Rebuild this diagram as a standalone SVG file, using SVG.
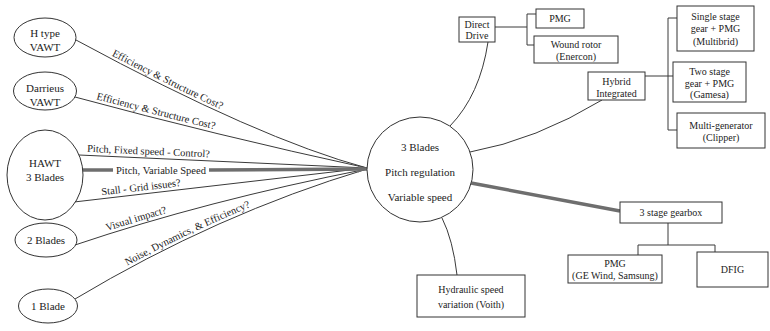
<svg xmlns="http://www.w3.org/2000/svg" xmlns:xlink="http://www.w3.org/1999/xlink" width="770" height="331" viewBox="0 0 770 331">
<style>
text{font-family:"Liberation Serif","Times New Roman",serif;fill:#1c1c1c}
.n{font-size:11px;text-anchor:middle}
.b{font-size:10px;text-anchor:middle}
.l{font-size:10.5px}
.shape{fill:#fff;stroke:#333;stroke-width:1}
.edge{fill:none;stroke:#3a3a3a;stroke-width:1}
.thick{fill:none;stroke:#6e6e6e;stroke-width:3.5}
</style>
<defs>
<marker id="head" viewBox="0 0 9 7" refX="9" refY="3.5" markerWidth="9" markerHeight="7" markerUnits="userSpaceOnUse" orient="auto">
<path d="M0,0 L9,3.5 L0,7 z" fill="#6e6e6e"/>
</marker>
<!-- baselines for the edge labels, running just above each edge -->
<path id="lp1" d="M76,36.5 Q259,135.5 367,164.5"/>
<path id="lp2" d="M75,93.5 Q215,131.5 367,164.5"/>
<path id="lp3" d="M79,151.5 L367,164.5"/>
<path id="lp5" d="M74,198.5 L367,164.5"/>
<path id="lp6" d="M75,241.5 Q205,197.5 367,165.5"/>
<path id="lp7" d="M75,295.5 Q217,210.5 367,165.5"/>
</defs>
<rect width="770" height="331" fill="#fff"/>

<g id="connectors">
<path class="edge" d="M76,40 Q259,139 367,168"/>
<path class="edge" d="M75,97 Q215,135 367,168"/>
<path class="edge" d="M79,155 L367,168"/>
<path class="edge" d="M74,202 L367,168"/>
<path class="edge" d="M75,245 Q205,201 367,169"/>
<path class="edge" d="M75,299 Q217,214 367,169"/>
<path class="thick" d="M83,170 H113"/>
<path class="thick" d="M209,170 L367,169" marker-end="url(#head)"/>
<path class="thick" d="M471,183 L620,211"/>
<path class="edge" d="M488,42 Q480,95 450,126"/>
<path class="edge" d="M602,100 Q536,140 470,152"/>
<path class="edge" d="M442,218 Q453,240 457,275"/>
<path class="edge" d="M495,27 H527 M527,14 V45 M527,14 H536 M527,45 H534"/>
<path class="edge" d="M645,76 H668 M668,18 V130 M668,18 H677 M668,76 H673 M668,130 H677"/>
<path class="edge" d="M668,223 V245 M638,245 H715 M638,245 V255 M715,245 V252"/>
<text class="l"><textPath xlink:href="#lp1" startOffset="40">Efficiency &amp; Structure Cost?</textPath></text>
<text class="l"><textPath xlink:href="#lp2" startOffset="22">Efficiency &amp; Structure Cost?</textPath></text>
<text class="l"><textPath xlink:href="#lp3" startOffset="8">Pitch, Fixed speed - Control?</textPath></text>
<text class="l" x="161" y="173.5" text-anchor="middle">Pitch, Variable Speed</text>
<text class="l"><textPath xlink:href="#lp5" startOffset="28">Stall - Grid issues?</textPath></text>
<text class="l"><textPath xlink:href="#lp6" startOffset="34">Visual impact?</textPath></text>
<text class="l"><textPath xlink:href="#lp7" startOffset="60">Noise, Dynamics, &amp; Efficiency?</textPath></text>
</g>

<g id="h-type-vawt">
<ellipse class="shape" cx="45" cy="37.5" rx="31" ry="19.5"/>
<text class="n" x="45" y="36.5">H type</text>
<text class="n" x="45" y="50.5">VAWT</text>
</g>
<g id="darrieus-vawt">
<ellipse class="shape" cx="45" cy="91" rx="31.5" ry="19"/>
<text class="n" x="45" y="91.5">Darrieus</text>
<text class="n" x="45" y="105.5">VAWT</text>
</g>
<g id="hawt">
<ellipse class="shape" cx="45" cy="175" rx="38" ry="45"/>
<text class="n" x="45" y="166.5">HAWT</text>
<text class="n" x="45" y="180.5">3 Blades</text>
</g>
<g id="two-blades">
<ellipse class="shape" cx="46" cy="240" rx="31" ry="17"/>
<text class="n" x="46" y="244">2 Blades</text>
</g>
<g id="one-blade">
<ellipse class="shape" cx="48" cy="306" rx="29.5" ry="17"/>
<text class="n" x="48" y="310">1 Blade</text>
</g>

<g id="main-concept">
<ellipse class="shape" cx="420" cy="169.5" rx="53" ry="52.5"/>
<text class="n" x="420" y="151">3 Blades</text>
<text class="n" x="420" y="175.5">Pitch regulation</text>
<text class="n" x="420" y="200.5">Variable speed</text>
</g>

<g id="direct-drive">
<rect class="shape" x="459" y="17" width="36" height="25"/>
<text class="b" x="477" y="27.5">Direct</text>
<text class="b" x="477" y="39">Drive</text>
</g>
<g id="dd-pmg">
<rect class="shape" x="536" y="9" width="48" height="19"/>
<text class="b" x="560" y="22">PMG</text>
</g>
<g id="wound-rotor">
<rect class="shape" x="534" y="36" width="84" height="27"/>
<text class="b" x="576" y="47.5">Wound rotor</text>
<text class="b" x="576" y="59.5">(Enercon)</text>
</g>
<g id="hybrid">
<rect class="shape" x="588" y="72" width="57" height="28"/>
<text class="b" x="616.5" y="84.5">Hybrid</text>
<text class="b" x="616.5" y="96.5">Integrated</text>
</g>
<g id="single-stage">
<rect class="shape" x="677" y="6" width="77" height="45"/>
<text class="b" x="715.5" y="20">Single stage</text>
<text class="b" x="715.5" y="32">gear + PMG</text>
<text class="b" x="715.5" y="44.5">(Multibrid)</text>
</g>
<g id="two-stage">
<rect class="shape" x="673" y="62" width="73" height="40"/>
<text class="b" x="709.5" y="75">Two stage</text>
<text class="b" x="709.5" y="86.5">gear + PMG</text>
<text class="b" x="709.5" y="98">(Gamesa)</text>
</g>
<g id="multi-generator">
<rect class="shape" x="677" y="113" width="88" height="35"/>
<text class="b" x="721" y="129">Multi-generator</text>
<text class="b" x="721" y="141">(Clipper)</text>
</g>
<g id="gearbox">
<rect class="shape" x="620" y="202" width="102" height="21"/>
<text class="b" x="671" y="216">3 stage gearbox</text>
</g>
<g id="gb-pmg">
<rect class="shape" x="568" y="255" width="94" height="28"/>
<text class="b" x="615" y="267">PMG</text>
<text class="b" x="615" y="279">(GE Wind, Samsung)</text>
</g>
<g id="dfig">
<rect class="shape" x="697" y="252" width="71" height="35"/>
<text class="b" x="732.5" y="273">DFIG</text>
</g>
<g id="hydraulic">
<rect class="shape" x="417" y="275" width="108" height="42"/>
<text class="b" x="471" y="293">Hydraulic speed</text>
<text class="b" x="471" y="308">variation (Voith)</text>
</g>
</svg>
